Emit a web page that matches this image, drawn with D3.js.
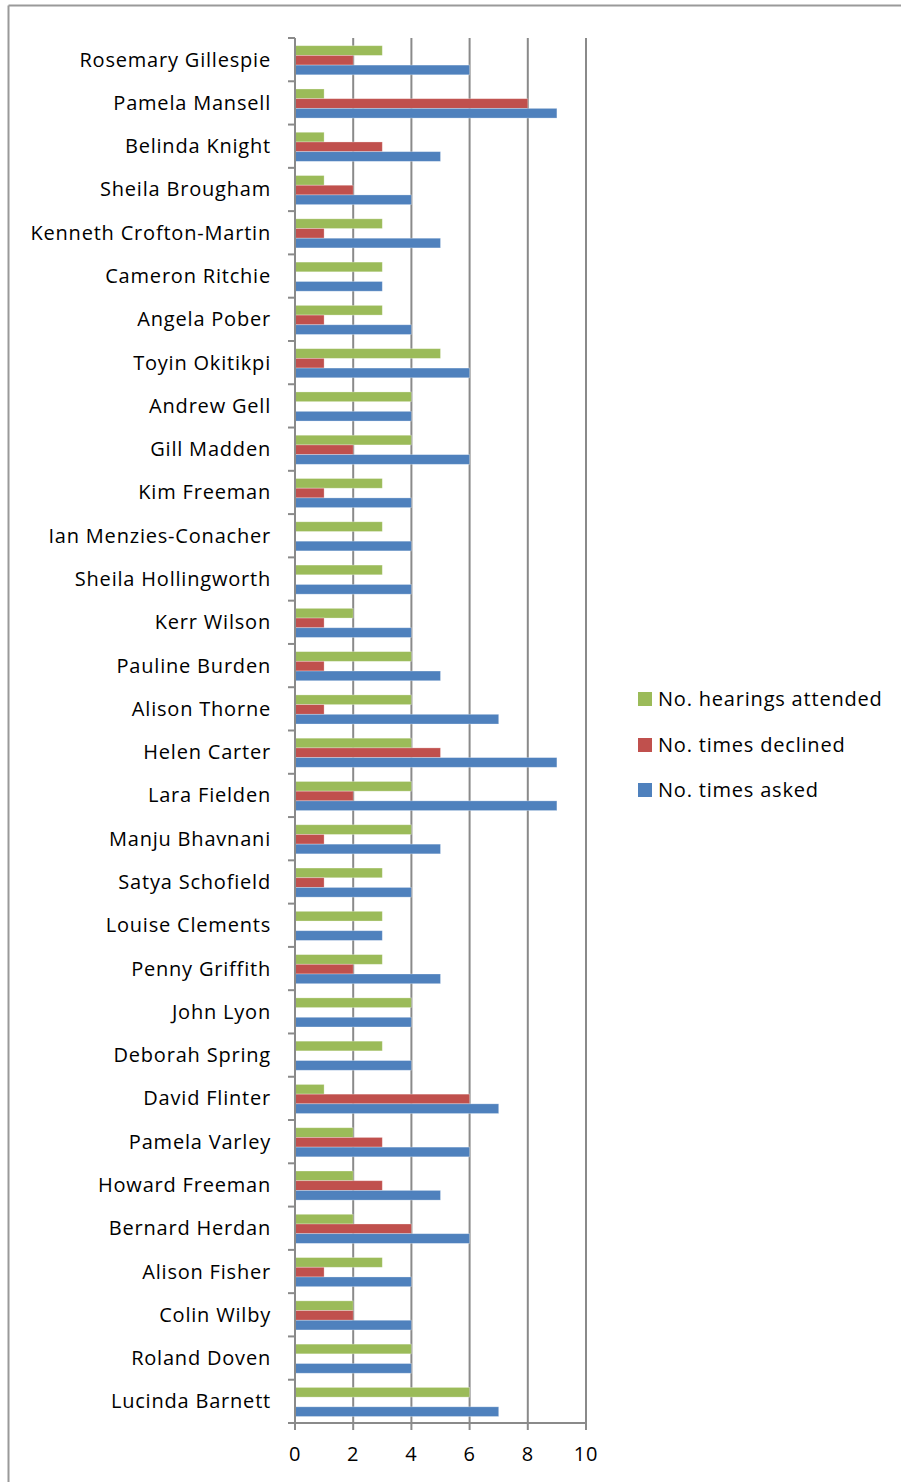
<!DOCTYPE html>
<html>
<head>
<meta charset="utf-8">
<script src="https://cdn.jsdelivr.net/npm/d3@7"></script>
<style>
  html, body { margin: 0; padding: 0; background: #fff; }
  svg { display: block; }
  text { font-family: "Open Sans", Lato, sans-serif; fill: #000; }
</style>
</head>
<body>
<svg id="chart" width="901" height="1482"></svg>
<script>
// Panel members, top to bottom
const names = [
  "Rosemary Gillespie", "Pamela Mansell", "Belinda Knight", "Sheila Brougham",
  "Kenneth Crofton-Martin", "Cameron Ritchie", "Angela Pober", "Toyin Okitikpi",
  "Andrew Gell", "Gill Madden", "Kim Freeman", "Ian Menzies-Conacher",
  "Sheila Hollingworth", "Kerr Wilson", "Pauline Burden", "Alison Thorne",
  "Helen Carter", "Lara Fielden", "Manju Bhavnani", "Satya Schofield",
  "Louise Clements", "Penny Griffith", "John Lyon", "Deborah Spring",
  "David Flinter", "Pamela Varley", "Howard Freeman", "Bernard Herdan",
  "Alison Fisher", "Colin Wilby", "Roland Doven", "Lucinda Barnett"
];

const hearingsAttended = [3,1,1,1,3,3,3,5,4,4,3,3,3,2,4,4,4,4,4,3,3,3,4,3,1,2,2,2,3,2,4,6];
const timesDeclined    = [2,8,3,2,1,0,1,1,0,2,1,0,0,1,1,1,5,2,1,1,0,2,0,0,6,3,3,4,1,2,0,0];
const timesAsked       = [6,9,5,4,5,3,4,6,4,6,4,4,4,4,5,7,9,9,5,4,3,5,4,4,7,6,5,6,4,4,4,7];

const seriesNames = ["No. hearings attended", "No. times declined", "No. times asked"];
const seriesColors = ["#9BBB59", "#C0504D", "#4F81BD"];
const xTicks = [0, 2, 4, 6, 8, 10];

const seriesValues = [hearingsAttended, timesDeclined, timesAsked];
const rows = names.map((n, i) => ({
  name: n,
  values: seriesValues.map((vals, s) => ({ series: seriesNames[s], value: vals[i] }))
}));

const svg = d3.select("#chart");
const labelFont = { size: 20, spacing: 0.8 };

// Outer chart frame (top and left edges)
svg.append("line").attr("x1", 8.5).attr("x2", 901).attr("y1", 5.5).attr("y2", 5.5)
  .attr("stroke", "#9a9a9a").attr("stroke-width", 2);
svg.append("line").attr("x1", 8.5).attr("x2", 8.5).attr("y1", 5.5).attr("y2", 1482)
  .attr("stroke", "#9a9a9a").attr("stroke-width", 2);

const plot = { left: 295, right: 586, top: 38, bottom: 1423 };

const x = d3.scaleLinear().domain([0, 10]).range([plot.left, plot.right]);
const y = d3.scaleBand().domain(names).range([plot.top, plot.bottom]).paddingInner(0).paddingOuter(0);
const ySub = d3.scaleBand().domain(seriesNames)
  .range([y.bandwidth() * 0.178, y.bandwidth() * 0.85]).padding(0);

// Vertical gridlines
svg.append("g")
  .selectAll("line")
  .data(xTicks.filter(t => t > 0))
  .join("line")
  .attr("x1", d => x(d)).attr("x2", d => x(d))
  .attr("y1", plot.top).attr("y2", plot.bottom + 7)
  .attr("stroke", "#8a8a8a").attr("stroke-width", 2);

// Bars
const groups = svg.append("g")
  .selectAll("g")
  .data(rows)
  .join("g")
  .attr("transform", d => `translate(0,${y(d.name)})`);

groups.selectAll("rect")
  .data(d => d.values)
  .join("rect")
  .attr("x", x(0))
  .attr("y", d => ySub(d.series))
  .attr("width", d => x(d.value) - x(0))
  .attr("height", ySub.bandwidth())
  .attr("fill", (d, i) => seriesColors[i])
  .attr("stroke", "rgba(255,255,255,0.35)")
  .attr("stroke-width", 0.8);

// Category axis
const yAxis = svg.append("g");
yAxis.append("line")
  .attr("x1", plot.left).attr("x2", plot.left)
  .attr("y1", plot.top).attr("y2", plot.bottom + 7)
  .attr("stroke", "#8a8a8a").attr("stroke-width", 2);
yAxis.selectAll("line.tick")
  .data(d3.range(names.length + 1))
  .join("line")
  .attr("class", "tick")
  .attr("x1", plot.left - 7).attr("x2", plot.left)
  .attr("y1", i => plot.top + i * y.step()).attr("y2", i => plot.top + i * y.step())
  .attr("stroke", "#8a8a8a").attr("stroke-width", 2);
yAxis.selectAll("text")
  .data(names)
  .join("text")
  .attr("x", 271)
  .attr("y", d => y(d) + y.bandwidth() / 2)
  .attr("dy", "0.35em")
  .attr("text-anchor", "end")
  .attr("font-size", labelFont.size)
  .attr("letter-spacing", labelFont.spacing)
  .text(d => d);

// Value axis
const xAxis = svg.append("g");
xAxis.append("line")
  .attr("x1", plot.left).attr("x2", plot.right)
  .attr("y1", plot.bottom).attr("y2", plot.bottom)
  .attr("stroke", "#8a8a8a").attr("stroke-width", 2);
xAxis.selectAll("text")
  .data(xTicks)
  .join("text")
  .attr("x", d => x(d))
  .attr("y", 1461)
  .attr("text-anchor", "middle")
  .attr("font-size", labelFont.size)
  .attr("letter-spacing", labelFont.spacing)
  .text(d => d);

// Legend
const legend = svg.append("g");
const legendY = [699, 745, 790];
legend.selectAll("rect")
  .data(seriesNames)
  .join("rect")
  .attr("x", 638).attr("y", (d, i) => legendY[i] - 7)
  .attr("width", 14).attr("height", 14)
  .attr("fill", (d, i) => seriesColors[i]);
legend.selectAll("text")
  .data(seriesNames)
  .join("text")
  .attr("x", 658).attr("y", (d, i) => legendY[i])
  .attr("dy", "0.35em")
  .attr("font-size", labelFont.size)
  .attr("letter-spacing", labelFont.spacing)
  .text(d => d);
</script>
</body>
</html>
